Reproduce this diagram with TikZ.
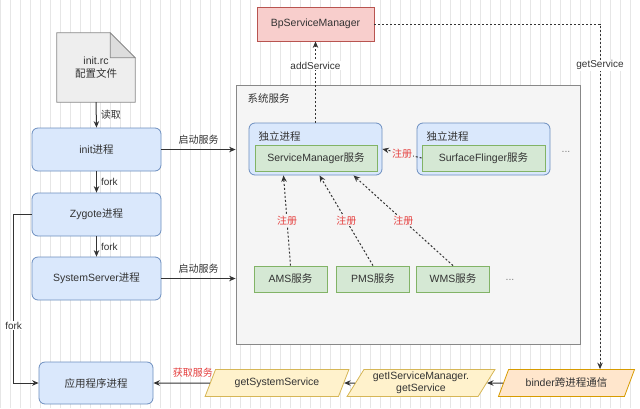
\documentclass[tikz,border=0pt]{standalone}
\usepackage{fontspec}
\setmainfont{Liberation Sans}
\newfontfamily\zh{Noto Sans CJK SC}
\usetikzlibrary{arrows.meta,shapes.geometric}
\definecolor{GridLine}{HTML}{E6E6E6}
\definecolor{TextDark}{HTML}{333333}
\definecolor{ProcFill}{HTML}{DAE8FC}
\definecolor{ProcLine}{HTML}{6C8EBF}
\definecolor{SvcFill}{HTML}{D5E8D4}
\definecolor{SvcLine}{HTML}{82B366}
\definecolor{BpFill}{HTML}{F8CECC}
\definecolor{BpLine}{HTML}{B85450}
\definecolor{GetFill}{HTML}{FFF2CC}
\definecolor{GetLine}{HTML}{D6B656}
\definecolor{BinderFill}{HTML}{FFE6CC}
\definecolor{BinderLine}{HTML}{D79B00}
\definecolor{SysFill}{HTML}{F5F5F5}
\definecolor{SysLine}{HTML}{888888}
\definecolor{DocFill}{HTML}{EEEEEE}
\definecolor{DocFold}{HTML}{DDDDDD}
\definecolor{RegRed}{HTML}{E5403F}

\begin{document}
\begin{tikzpicture}[x=1pt,y=-1pt,
    every node/.style={font=\fontsize{10.5}{12.5}\selectfont, text=TextDark},
    proc/.style={draw=ProcLine, fill=ProcFill, rounded corners=6pt, line width=0.8pt,
      minimum width=129pt, minimum height=43pt},
    svc/.style={draw=SvcLine, fill=SvcFill, line width=0.8pt,
      minimum width=73pt, minimum height=26pt},
    para/.style={trapezium, trapezium left angle=58, trapezium right angle=122,
      trapezium stretches=true, line width=0.8pt, minimum height=27pt, inner sep=1pt,
      align=center, font=\fontsize{10.5}{11.5}\selectfont},
    flow/.style={-{Stealth[length=6.5pt,width=5.5pt]}, line width=1pt, draw=TextDark},
    reg/.style={flow, dash pattern=on 2pt off 2pt},
    lbl/.style={font=\fontsize{10}{11}\selectfont, inner sep=1pt},
    redlbl/.style={lbl, text=RegRed}
  ]
  \useasboundingbox (0,0) rectangle (640,408);
  \fill[white] (0,0) rectangle (640,408);
  \draw[GridLine, line width=0.4pt, step=10] (0,0) grid (640,408);

  % config file
  \node[minimum width=78pt, minimum height=69pt] (doc) at (96,67.5) {};
  \draw[SysLine, fill=DocFill, line width=0.8pt]
    (doc.south west) -- (doc.north west) -- ([xshift=-25pt]doc.north east)
    -- ([yshift=-25pt]doc.north east) -- (doc.south east) -- cycle;
  \draw[SysLine, fill=DocFold, line width=0.8pt]
    ([xshift=-25pt]doc.north east) -- ([xshift=-25pt,yshift=-25pt]doc.north east)
    -- ([yshift=-25pt]doc.north east) -- cycle;
  \node[align=center] at (doc) {init.rc\\{\zh 配置文件}};

  % processes
  \node[proc] (init) at (96.5,149.5) {init{\zh 进程}};
  \node[proc] (zyg) at (96.5,214.5) {Zygote{\zh 进程}};
  \node[proc] (ss) at (96.5,278.5) {SystemServer{\zh 进程}};
  \node[proc, minimum width=114pt, minimum height=42pt] (app) at (96,383) {\zh 应用程序进程};

  % system services
  \node[draw=SysLine, fill=SysFill, line width=0.8pt, minimum width=344pt, minimum height=259pt]
    (sys) at (408,214.5) {};
  \node[anchor=west] (syslbl) at (244,98) {\zh 系统服务};

  \node[proc, minimum width=133pt, minimum height=52pt] (lp) at (315.5,149) {};
  \node[anchor=west] (lplbl) at (255,136) {\zh 独立进程};
  \node[svc, minimum width=122pt] (sm) at (316,158) {ServiceManager{\zh 服务}};
  \node[proc, minimum width=133pt, minimum height=52pt] (rp) at (483.5,149) {};
  \node[anchor=west] (rplbl) at (423,136) {\zh 独立进程};
  \node[svc, minimum width=123pt] (sf) at (483.5,158) {SurfaceFlinger{\zh 服务}};
  \node[text=gray] (dots1) at (566,152) {...};

  \node[svc] (ams) at (290.5,279) {AMS{\zh 服务}};
  \node[svc] (pms) at (373,279) {PMS{\zh 服务}};
  \node[svc] (wms) at (453,279) {WMS{\zh 服务}};
  \node[text=gray] (dots2) at (510,280) {...};

  \node[draw=BpLine, fill=BpFill, line width=0.8pt, minimum width=117pt, minimum height=34pt]
    (bp) at (315.5,24) {BpServiceManager};

  % bottom chain
  \node[para, draw=GetLine, fill=GetFill, minimum width=144pt] (gss) at (277,383) {getSystemService};
  \node[para, draw=GetLine, fill=GetFill, minimum width=148pt] (gism) at (421,383)
    {getIServiceManager.\\getService};
  \node[para, draw=BinderLine, fill=BinderFill, minimum width=137pt] (binder) at (566.5,383)
    {binder{\zh 跨进程通信}};
  \coordinate (gsx) at (600,24);

  % connectors
  \draw[flow] (doc.south) -- node[lbl, right=3pt] {\zh 读取} (init.north);
  \draw[flow] (init.south) -- node[lbl, right=3pt] {fork} (zyg.north);
  \draw[flow] (zyg.south) -- node[lbl, right=3pt] {fork} (ss.north);
  \draw[flow] (zyg.west) -- ++(-18,0) |- node[lbl, pos=0.33, fill=white] {fork} (app.west);
  \draw[flow] (init.east) -- node[lbl, above=4pt] {\zh 启动服务} (init.east -| sys.west);
  \draw[flow] (ss.east) -- node[lbl, above=4pt] {\zh 启动服务} (ss.east -| sys.west);

  \draw[reg] (sf.west) -- node[redlbl, fill=SysFill] {\zh 注册} (lp.east);
  \draw[reg] (ams.north) -- node[redlbl, fill=SysFill, pos=0.5] {\zh 注册} ([xshift=-32pt]lp.south);
  \draw[reg] (pms.north) -- node[redlbl, fill=SysFill, pos=0.5] {\zh 注册} ([xshift=4pt]lp.south);
  \draw[reg] (wms.north) -- node[redlbl, fill=SysFill, pos=0.5] {\zh 注册} ([xshift=38pt]lp.south);

  \draw[reg] (lp.north) -- node[lbl, fill=white, pos=0.7] {addService} (bp.south);
  \draw[reg] (bp.east) -- (gsx) -- node[lbl, fill=white, pos=0.12] {getService} (gsx |- binder.north);

  \draw[flow] (binder.west) -- (gism.east);
  \draw[flow] (gism.west) -- (gss.east);
  \draw[flow] (gss.west) -- node[redlbl, above=4pt, pos=0.3] {\zh 获取服务} (app.east);
\end{tikzpicture}
\end{document}
